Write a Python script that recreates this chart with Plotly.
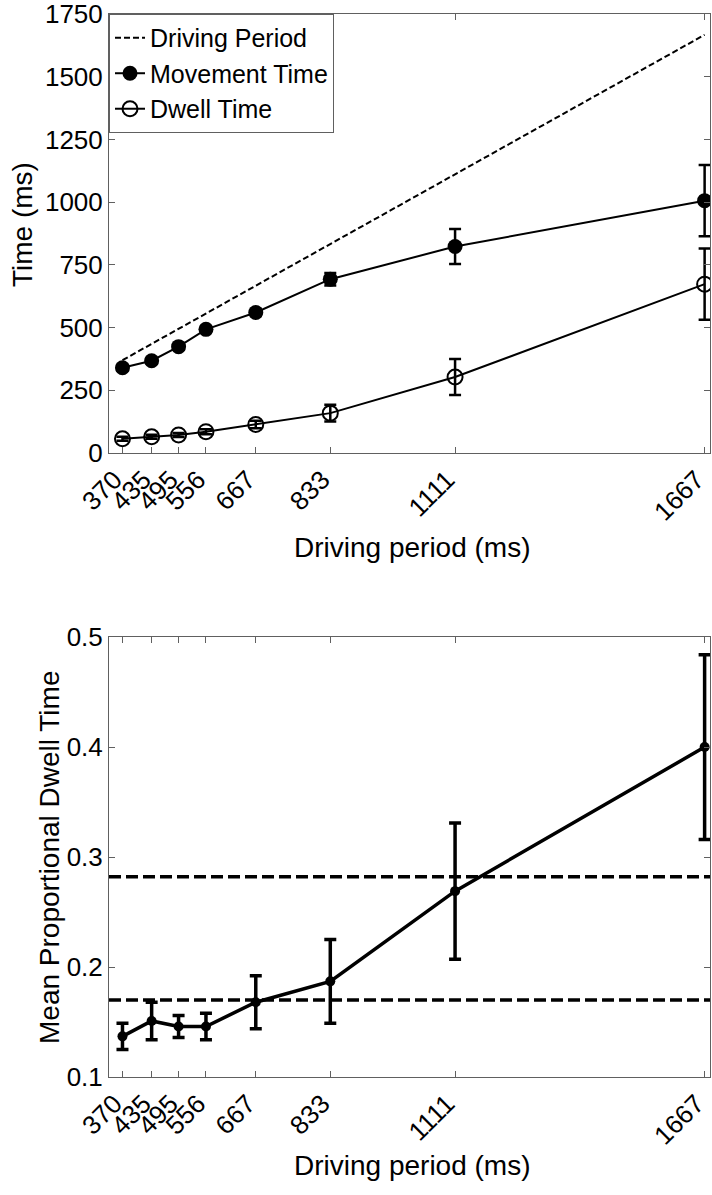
import plotly.graph_objects as go

periods = [370, 435, 495, 556, 667, 833, 1111, 1667]
tick_labels = ["370", "435", "495", "556", "667", "833", "1111", "1667"]

movement_time = [340, 368, 424, 493, 560, 693, 823, 1006]
movement_err = [12, 12, 12, 12, 14, 25, 70, 142]
dwell_time = [57, 65, 72, 85, 114, 159, 303, 673]
dwell_err = [8, 8, 8, 10, 15, 33, 72, 142]

prop_dwell = [0.137, 0.151, 0.146, 0.146, 0.168, 0.187, 0.269, 0.400]
prop_err = [0.012, 0.017, 0.010, 0.012, 0.024, 0.038, 0.062, 0.084]
ref_lines = [0.170, 0.282]

FONT = "Liberation Sans, Arial, sans-serif"
AX = "#606060"
TICK = 26
TITLE = 28

fig = go.Figure()

fig.add_trace(go.Scatter(
    x=[periods[0], periods[-1]], y=[periods[0], periods[-1]], mode="lines",
    line=dict(color="black", width=2, dash="6px,3px"), name="Driving Period",
    legendgroup="a", xaxis="x", yaxis="y"))
fig.add_trace(go.Scatter(
    x=periods, y=movement_time, mode="lines+markers", name="Movement Time",
    line=dict(color="black", width=2),
    marker=dict(symbol="circle", size=15, color="black"),
    error_y=dict(type="data", array=movement_err, color="black", thickness=2.5, width=6),
    legendgroup="b", xaxis="x", yaxis="y"))
fig.add_trace(go.Scatter(
    x=periods, y=dwell_time, mode="lines+markers", name="Dwell Time",
    line=dict(color="black", width=2),
    marker=dict(symbol="circle-open", size=15, color="black", line=dict(width=2)),
    error_y=dict(type="data", array=dwell_err, color="black", thickness=2.5, width=6),
    legendgroup="c", xaxis="x", yaxis="y"))

fig.add_trace(go.Scatter(
    x=periods, y=prop_dwell, mode="lines+markers", showlegend=False,
    line=dict(color="black", width=3.5),
    marker=dict(symbol="circle", size=10, color="black"),
    error_y=dict(type="data", array=prop_err, color="black", thickness=3.5, width=6),
    xaxis="x2", yaxis="y2"))

for yv in ref_lines:
    fig.add_shape(type="line", xref="x2 domain", yref="y2", x0=0, x1=1, y0=yv, y1=yv,
                  line=dict(color="black", width=3.5, dash="12px,5px"), layer="below")

xcommon = dict(
    range=[340, 1679], tickvals=periods, ticktext=tick_labels, tickangle=-45,
    ticks="inside", ticklen=6, tickcolor=AX, showline=True, linecolor=AX, linewidth=1,
    mirror="ticks", showgrid=False, zeroline=False, automargin=False,
    ticklabeloverflow="allow", ticklabelshift=-8,
    tickfont=dict(family=FONT, size=TICK, color="black"))
ycommon = dict(
    ticks="inside", ticklen=6, tickcolor=AX, showline=True, linecolor=AX, linewidth=1,
    mirror="ticks", showgrid=False, zeroline=False, automargin=False,
    ticklabeloverflow="allow",
    tickfont=dict(family=FONT, size=TICK, color="black"))

fig.update_layout(
    width=712, height=1195,
    margin=dict(l=0, r=0, t=0, b=0, autoexpand=False),
    paper_bgcolor="white", plot_bgcolor="white",
    font=dict(family=FONT, size=TICK, color="black"),
    xaxis=dict(domain=[0.1531, 0.9972], anchor="y", **xcommon),
    yaxis=dict(domain=[0.6209, 0.9883], anchor="x", range=[0, 1750],
               tickvals=[0, 250, 500, 750, 1000, 1250, 1500, 1750], **ycommon),
    xaxis2=dict(domain=[0.1531, 0.9972], anchor="y2", **xcommon),
    yaxis2=dict(domain=[0.0987, 0.4669], anchor="x2", range=[0.1, 0.5],
                tickvals=[0.1, 0.2, 0.3, 0.4, 0.5], ticktext=["0.1", "0.2", "0.3", "0.4", "0.5"],
                **ycommon),
    legend=dict(x=0.1531, y=0.9883, xanchor="left", yanchor="top",
                bordercolor=AX, borderwidth=1, bgcolor="white",
                font=dict(family=FONT, size=25, color="black"),
                itemwidth=30, tracegroupgap=0),
    showlegend=True,
)

def title(text, x, y, angle=0):
    fig.add_annotation(text=text, x=x / 712, y=1 - y / 1195, xref="paper", yref="paper",
                       xanchor="center", yanchor="middle", textangle=angle,
                       showarrow=False, font=dict(family=FONT, size=TITLE))

title("Time (ms)", 22, 225, -90)
title("Driving period (ms)", 412, 547)
title("Mean Proportional Dwell Time", 50, 857, -90)
title("Driving period (ms)", 412, 1165)

fig.write_html("out.html")
